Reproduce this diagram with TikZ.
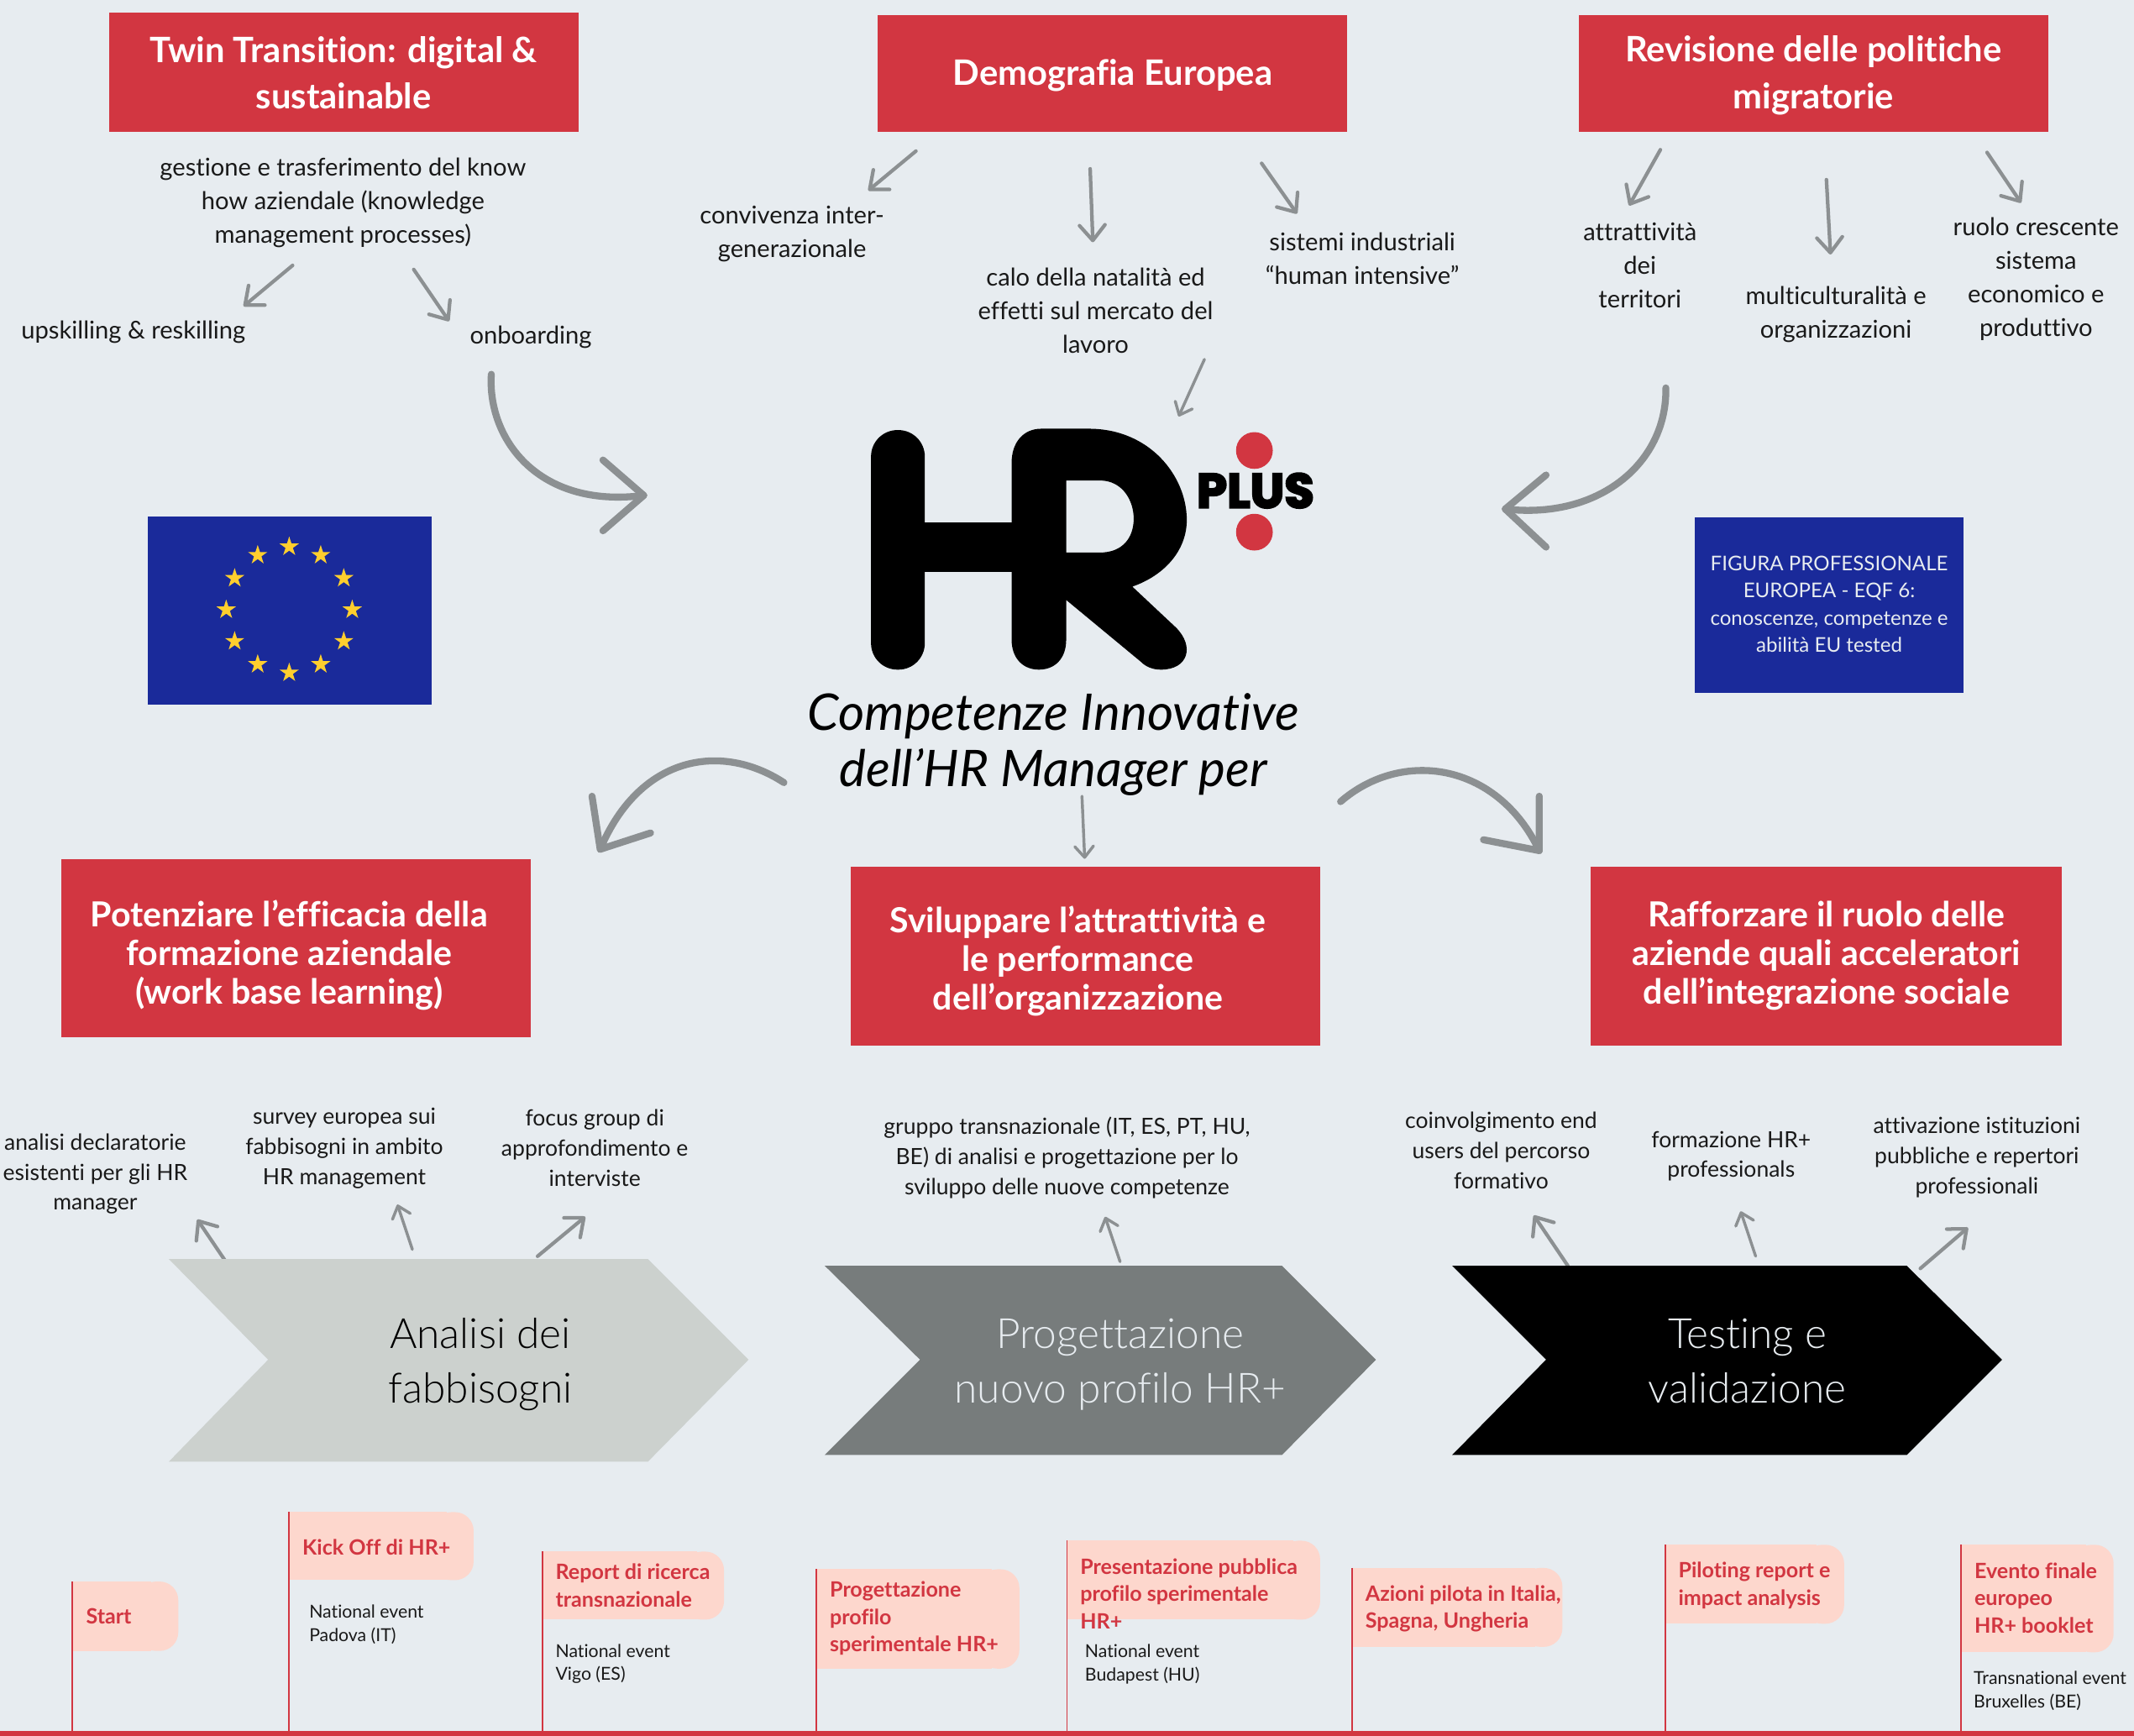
\documentclass[tikz,border=0pt]{standalone}
\usepackage{fontspec}
\setmainfont{Lato}[Ligatures=NoCommon]
\newfontfamily\plusfont[BoldFeatures={FakeBold=4}]{Poppins}
\newfontfamily\lightfont[Ligatures=NoCommon]{Lato Light}
\usetikzlibrary{arrows.meta,shapes.geometric}
\definecolor{bgc}{HTML}{E7ECF0}
\definecolor{redc}{HTML}{D23641}
\definecolor{pinkc}{HTML}{FDD7CD}
\definecolor{bluec}{HTML}{1A2A9A}
\definecolor{arrowc}{HTML}{8C9092}
\definecolor{chevA}{HTML}{CCD1CE}
\definecolor{chevB}{HTML}{777C7C}
\definecolor{starc}{HTML}{FFCE2E}
\tikzset{
 redbox/.style={fill=redc,draw=none},
 tophead/.style={text=white,align=center,inner sep=0pt,font=\fontsize{20.6}{27.4}\selectfont\bfseries},
 lowhead/.style={text=white,align=center,inner sep=0pt,font=\fontsize{20.3}{22.8}\selectfont\bfseries},
 body/.style={align=center,inner sep=0pt,text=black!90,font=\fontsize{14.4}{19.7}\selectfont},
 small/.style={align=center,inner sep=0pt,text=black!90,font=\fontsize{13.1}{17.7}\selectfont},
 bluetext/.style={align=center,inner sep=0pt,text=bgc,font=\fontsize{11.9}{16}\selectfont},
 chevtext/.style={align=center,inner sep=0pt,font=\lightfont\fontsize{24.5}{32.4}\selectfont},
 title/.style={align=center,inner sep=0pt,text=black,font=\fontsize{29.7}{32.8}\selectfont\itshape},
 flagtext/.style={align=left,inner sep=0pt,anchor=west,text=redc,font=\fontsize{12.4}{16}\selectfont\bfseries},
 eventtext/.style={align=left,inner sep=0pt,anchor=west,text=black!90,font=\fontsize{10.5}{13.8}\selectfont},
 thinar/.style={draw=arrowc,line width=2.1pt,line cap=round,-{Straight Barb[length=9pt,width=15pt,line width=2.1pt,round]}},
 thinsm/.style={draw=arrowc,line width=1.7pt,line cap=round,-{Straight Barb[length=6.5pt,width=11pt,line width=1.7pt,round]}},
 bigar/.style={draw=arrowc,line width=4.1pt,line cap=round,line join=round},
 starstyle/.style={star,star points=5,star point ratio=2.618,minimum size=12pt,inner sep=0pt,fill=starc,draw=none}
}
\newcommand{\thinarrow}[4][thinar]{\coordinate (#2s) at #3; \coordinate (#2e) at #4; \draw[#1] (#2s) -- (#2e);}
\newcommand{\flagshape}[5]{% name, pole x, top, bottom, right
 \coordinate (#1top) at (#2,#3);
 \coordinate (#1foot) at (#2,1272);
 \fill[pinkc,rounded corners=11pt] (#5-30,#3) -- (#5,#3) -- (#5,#4) -- (#5-30,#4) -- cycle;
 \fill[pinkc] (#2,#3) rectangle (#5-20,#4);
 \draw[redc,line width=0.9pt] (#1top) -- (#1foot);
}
\begin{document}
\begin{tikzpicture}[x=0.8pt,y=-0.8pt]
\useasboundingbox (0,0) rectangle (1568,1275.5);
\fill[bgc] (0,0) rectangle (1568,1275.5);

% top boxes
\fill[redbox] (80,9) rectangle (425,97);
\fill[redbox] (645,11) rectangle (990,97);
\fill[redbox] (1160,11) rectangle (1505,97);
\node[tophead] (t1) at (252.5,53.5) {Twin Transition: digital \&\\sustainable};
\node[tophead] (t2) at (817.5,55.5) {Demografia Europea};
\node[tophead] (t3) at (1332.5,55.5) {Revisione delle politiche\\migratorie};

% top texts
\node[body] (a1) at (252,149) {gestione e trasferimento del know\\how aziendale (knowledge\\management processes)};
\node[body] (a2) at (98,244) {upskilling \& reskilling};
\node[body] (a3) at (390,248) {onboarding};
\node[body] (b1) at (582,172) {convivenza inter-\\generazionale};
\node[body] (b2) at (805,228) {calo della natalità ed\\effetti sul mercato del\\lavoro};
\node[body] (b3) at (1001,190) {sistemi industriali\\“human intensive”};
\node[body] (c1) at (1205,195) {attrattività\\dei\\territori};
\node[body] (c2) at (1349,231) {multiculturalità e\\organizzazioni};
\node[body] (c3) at (1496,205) {ruolo crescente\\sistema\\economico e\\produttivo};

% thin arrows
\thinarrow{r1}{(215,195)}{(179,225)}
\thinarrow{r2}{(304,198)}{(330,236)}
\thinarrow{r3}{(673,111)}{(638,140)}
\thinarrow{r4}{(801,124)}{(803,178)}
\thinarrow{r5}{(927,120)}{(953,157)}
\thinarrow[thinsm]{r6}{(885,264)}{(866,306)}
\thinarrow{r7}{(1220,110)}{(1197,151)}
\thinarrow{r8}{(1342,132)}{(1345,187)}
\thinarrow{r9}{(1460,112)}{(1485,149)}
\thinarrow[thinsm]{r10}{(795,585)}{(797,631)}
\thinarrow{r11}{(170,933)}{(145,896)}
\thinarrow[thinsm]{r12}{(303,918)}{(292,885)}
\thinarrow{r13}{(395,923)}{(430,894)}
\thinarrow[thinsm]{r14}{(823,927)}{(812,894)}
\thinarrow{r15}{(1152,930)}{(1127,893)}
\thinarrow[thinsm]{r16}{(1290,923)}{(1279,890)}
\thinarrow{r17}{(1411,932)}{(1446,902)}

% big curved arrows
\coordinate (ba) at (361,275); \coordinate (bb) at (473,364);
\coordinate (bb1) at (443,338); \coordinate (bb2) at (443,390);
\draw[bigar] (ba) .. controls (358,322) and (395,374) .. (bb);
\draw[bigar] (bb1) -- (bb) -- (bb2);
\coordinate (ca) at (1224,285); \coordinate (cb) at (1106,374);
\coordinate (cb1) at (1136,349); \coordinate (cb2) at (1136,402);
\draw[bigar] (ca) .. controls (1225,340) and (1175,382) .. (cb);
\draw[bigar] (cb1) -- (cb) -- (cb2);
\coordinate (da) at (576,575); \coordinate (db) at (441,624);
\coordinate (db1) at (435,585); \coordinate (db2) at (478,612);
\draw[bigar] (da) .. controls (530,545) and (470,555) .. (db);
\draw[bigar] (db1) -- (db) -- (db2);
\coordinate (ea) at (985,589); \coordinate (eb) at (1131,625);
\coordinate (eb1) at (1090,617); \coordinate (eb2) at (1131,585);
\draw[bigar] (ea) .. controls (1030,550) and (1100,560) .. (eb);
\draw[bigar] (eb1) -- (eb) -- (eb2);

% flag
\fill[bluec] (108.6,379.5) rectangle (317,517.7);
\foreach \i in {0,...,11}{
  \node[starstyle] (star\i) at ({212.5+46.3*cos(30*\i)},{448-46.3*sin(30*\i)}) {};
}

% blue box
\fill[bluec] (1245,380) rectangle (1443,509);
\node[bluetext] (bt) at (1344,444) {FIGURA PROFESSIONALE\\EUROPEA - EQF 6:\\conoscenze, competenze e\\abilità EU tested};

% HR logo
\fill[black,rounded corners=15.5pt] (640,316) rectangle (679.5,492);
\fill[black] (670,384) rectangle (750,420.5);
\fill[black,even odd rule]
  (743.3,340) .. controls (743.3,325) and (752,315) .. (765,315) -- (800,315)
  .. controls (845,315) and (872,350) .. (872,382)
  .. controls (872,405) and (855,423) .. (832,431)
  -- (864,461) .. controls (878,475) and (873,492) .. (853,492)
  .. controls (847,492) and (842,490) .. (838,486)
  -- (783.4,440.8) -- (783.4,470) .. controls (783.4,484) and (775,492) .. (763.3,492)
  .. controls (752,492) and (743.3,484) .. (743.3,470) -- cycle
  (783.4,353) -- (808,353) .. controls (825,353) and (833,368) .. (833,381)
  .. controls (833,395) and (825,406) .. (808,406) -- (783.4,406) -- cycle;
\fill[redc] (921.7,331) circle (10.8pt);
\fill[redc] (921.7,391) circle (10.8pt);
\node[inner sep=0pt,text=black,font=\plusfont\bfseries\fontsize{28.5}{28.5}\selectfont] (plus) at (922.5,360.5) {PLUS};

% title
\node[title] (title) at (774,547) {Competenze Innovative\\dell’HR Manager per};

% lower boxes
\fill[redbox] (45,631) rectangle (390,762);
\fill[redbox] (625,637) rectangle (970,768);
\fill[redbox] (1169,637) rectangle (1515,768);
\node[lowhead] (l1) at (212.5,702) {Potenziare l’efficacia della\\formazione aziendale\\(work base learning)};
\node[lowhead] (l2) at (792,706) {Sviluppare l’attrattività e\\le performance\\dell’organizzazione};
\node[lowhead] (l3) at (1342,702) {Rafforzare il ruolo delle\\aziende quali acceleratori\\dell’integrazione sociale};

% lower texts
\node[small] (d1) at (70,862.5) {analisi declaratorie\\esistenti per gli HR\\manager};
\node[small] (d2) at (253,843.5) {survey europea sui\\fabbisogni in ambito\\HR management};
\node[small] (d3) at (437,843.5) {focus group di\\approfondimento e\\interviste};
\node[small] (d4) at (784,850.5) {gruppo transnazionale (IT, ES, PT, HU,\\BE) di analisi e progettazione per lo\\sviluppo delle nuove competenze};
\node[small] (d5) at (1103,845.5) {coinvolgimento end\\users del percorso\\formativo};
\node[small] (d6) at (1272,849.5) {formazione HR+\\professionals};
\node[small] (d7) at (1452.5,850.5) {attivazione istituzioni\\pubbliche e repertori\\professionali};

% chevrons
\fill[chevA] (124,925) -- (476,925) -- (550,999) -- (476,1074) -- (124,1074) -- (197,999) -- cycle;
\fill[chevB] (606,930) -- (942,930) -- (1011,999) -- (942,1069) -- (606,1069) -- (676,999) -- cycle;
\fill[black] (1067,930) -- (1401,930) -- (1471,999) -- (1401,1069) -- (1067,1069) -- (1136,999) -- cycle;
\node[chevtext,text=black] (f1) at (353,1002.5) {Analisi dei\\fabbisogni};
\node[chevtext,text=bgc] (f2) at (823,1002.5) {Progettazione\\nuovo profilo HR+};
\node[chevtext,text=bgc] (f3) at (1284,1000) {Testing e\\validazione};

% timeline
\fill[redc] (0,1272) rectangle (1568,1275.5);
\flagshape{g1}{53}{1162}{1213}{131}
\flagshape{g2}{212.5}{1111}{1161}{348}
\flagshape{g3}{398.5}{1140}{1190}{532}
\flagshape{g4}{600}{1153}{1226}{749}
\flagshape{g5}{784}{1132}{1190}{970}
\flagshape{g6}{993.7}{1152}{1210}{1148}
\flagshape{g7}{1223.7}{1135}{1193}{1355}
\flagshape{g8}{1440.7}{1135}{1214}{1553}
\node[flagtext] (h1) at (63,1187.5) {Start};
\node[flagtext] (h2) at (222,1137) {Kick Off di HR+};
\node[flagtext] (h3) at (408,1165) {Report di ricerca\\transnazionale};
\node[flagtext] (h4) at (609.5,1189) {Progettazione\\profilo\\sperimentale HR+};
\node[flagtext] (h5) at (793.5,1171) {Presentazione pubblica\\profilo sperimentale\\HR+};
\node[flagtext] (h6) at (1003,1182) {Azioni pilota in Italia,\\Spagna, Ungheria};
\node[flagtext] (h7) at (1233,1165) {Piloting report e\\impact analysis};
\node[flagtext] (h8) at (1450.5,1174) {Evento finale\\europeo\\HR+ booklet};
\node[eventtext] (i1) at (227,1193.5) {National event\\Padova (IT)};
\node[eventtext] (i2) at (408,1222.5) {National event\\Vigo (ES)};
\node[eventtext] (i3) at (797,1222.5) {National event\\Budapest (HU)};
\node[eventtext] (i4) at (1450,1242.5) {Transnational event\\Bruxelles (BE)};
\end{tikzpicture}
\end{document}
